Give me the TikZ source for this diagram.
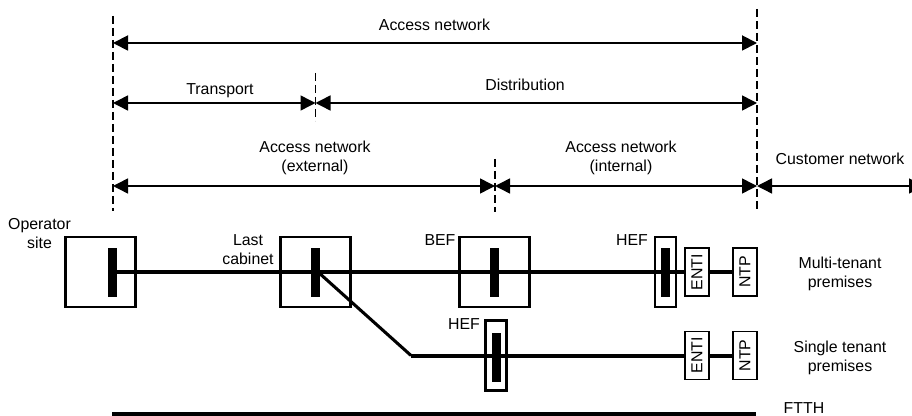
\documentclass[tikz,border=0pt]{standalone}
\usepackage{fontspec}
\setmainfont{Liberation Sans}
\usetikzlibrary{arrows.meta}
\tikzset{
 lbl/.style={inner sep=0pt,align=center,font=\fontsize{11.9}{14.3}\selectfont},
 span/.style={{Triangle[length=11.25pt,width=11.25pt]}-{Triangle[length=11.25pt,width=11.25pt]},line width=1.1pt},
 limit/.style={dashed,dash pattern=on 6pt off 3pt,line width=0.8pt},
 site/.style={draw,line width=2pt,inner sep=0pt,minimum width=52.5pt,minimum height=52.5pt},
 hefbox/.style={draw,line width=2pt,inner sep=0pt,minimum width=15.75pt,minimum height=52.5pt},
 bar/.style={fill=black,inner sep=0pt,minimum width=6.75pt,minimum height=36.75pt},
 term/.style={draw,line width=0.8pt,fill=white,inner sep=0pt,minimum width=18pt,minimum height=36pt},
 fibre/.style={line width=3pt}
}
\begin{document}
\begin{tikzpicture}[x=0.75pt,y=-0.75pt]
 \useasboundingbox (0,0) rectangle (912,416);
 % limits of the segments
 \coordinate (lim1a) at (113,16);
 \coordinate (lim1b) at (113,211);
 \coordinate (lim2a) at (315.5,73);
 \coordinate (lim2b) at (315.5,121);
 \coordinate (lim3a) at (495,159);
 \coordinate (lim3b) at (495,212);
 \coordinate (lim4a) at (757,9);
 \coordinate (lim4b) at (757,212);
 \foreach \n in {1,...,4}
  \draw[limit] (lim\n a) -- (lim\n b);
 \coordinate (w1) at (113,43);
 \coordinate (e1) at (757,43);
 \coordinate (w2) at (113,103);
 \coordinate (m2) at (315.5,103);
 \coordinate (e2) at (757,103);
 \coordinate (w3) at (113,186);
 \coordinate (m3) at (495,186);
 \coordinate (e3) at (757,186);
 \coordinate (f3) at (924,186);
 \draw[span,line width=1.4pt] (w1) -- (e1);
 \draw[span] (w2) -- (m2);
 \draw[span] (m2) -- (e2);
 \draw[span] (w3) -- (m3);
 \draw[span] (m3) -- (e3);
 \draw[span] (e3) -- (f3);
 \node[lbl] (access) at (434.5,25) {Access network};
 \node[lbl] (transport) at (220,91) {Transport};
 \node[lbl] (distribution) at (525,85) {Distribution};
 \node[lbl] (external) at (315,157.5) {Access network\\(external)};
 \node[lbl] (internal) at (621,157.5) {Access network\\(internal)};
 \node[lbl] (customer) at (840,159) {Customer network};
 % sites
 \node[site] (operator) at (100.5,272) {};
 \node[site] (cabinet) at (315.5,272) {};
 \node[site] (bef) at (494.5,272) {};
 \node[hefbox] (hefa) at (665.5,272) {};
 \node[hefbox] (hefb) at (496,355.5) {};
 \node[term] (entia) at (697,272) {\rotatebox{90}{\fontsize{11.9}{14.5}\selectfont ENTI}};
 \node[term] (ntpa) at (745,272) {\rotatebox{90}{\fontsize{11.9}{14.5}\selectfont NTP}};
 \node[term] (entib) at (697,355.5) {\rotatebox{90}{\fontsize{11.9}{14.5}\selectfont ENTI}};
 \node[term] (ntpb) at (745,355.5) {\rotatebox{90}{\fontsize{11.9}{14.5}\selectfont NTP}};
 \node[bar] (baro) at (112.5,272.5) {};
 \node[bar] (barc) at (315.5,272.5) {};
 \node[bar] (barb) at (494.5,272.5) {};
 \node[bar] (barh) at (665.5,272.5) {};
 \node[bar] (bari) at (496.5,357) {};
 % fibres
 \coordinate (split) at (318,272);
 \coordinate (tee) at (411,355.5);
 \coordinate (ftthw) at (112,414);
 \coordinate (ftthe) at (756,414);
 \draw[fibre] (baro.east |- entia.west) -- (entia.west);
 \draw[fibre] (entia.east) -- (ntpa.west);
 \draw[line width=2.3pt] (split) -- (tee);
 \draw[fibre] (tee) -- (entib.west);
 \draw[fibre] (entib.east) -- (ntpb.west);
 \draw[fibre] (ftthw) -- (ftthe);
 \node[lbl] (oplbl) at (39.5,233.5) {Operator\\site};
 \node[lbl] (cablbl) at (248,249.5) {Last\\cabinet};
 \node[lbl] (beflbl) at (440,240) {BEF};
 \node[lbl] (hefalbl) at (632,240) {HEF};
 \node[lbl] (hefblbl) at (464,324) {HEF};
 \node[lbl] (multi) at (840,274) {Multi-tenant\\premises};
 \node[lbl] (single) at (840,357.5) {Single tenant\\premises};
 \node[lbl] (ftth) at (804,408) {FTTH};
\end{tikzpicture}
\end{document}
